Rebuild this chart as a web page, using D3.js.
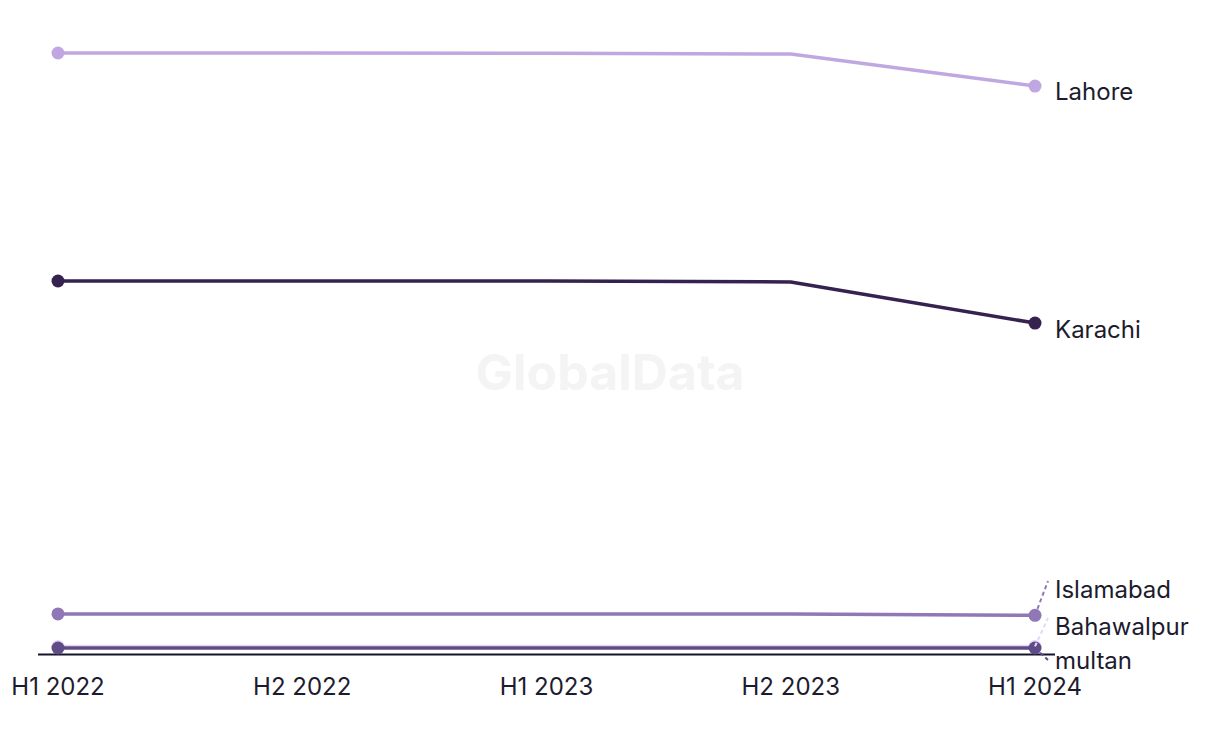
<!DOCTYPE html>
<html><head><meta charset="utf-8">
<script src="https://cdn.jsdelivr.net/npm/d3@7"></script>
<style>
html,body{margin:0;padding:0;background:#fff;}
svg{display:block;}
text{font-family:Inter, "Noto Sans", sans-serif;}
</style></head>
<body>
<svg id="chart" width="1220" height="744"></svg>
<script>
const periods = ["H1 2022","H2 2022","H1 2023","H2 2023","H1 2024"];
const seriesNames = ["Lahore","Karachi","Islamabad","Bahawalpur","multan"];
const lahore     = [3000, 3000, 2999, 2995, 2835];
const karachi    = [1862, 1862, 1862, 1857, 1652];
const islamabad  = [200, 200, 200, 200, 193];
const bahawalpur = [38, 38, 38, 38, 38];
const multan     = [30, 30, 30, 30, 30];
const colors = ["#c1a7e2","#35224f","#9077b5","#e6d6fa","#5f4b86"];
// label vertical position (in px) for crowded labels at the end
const labelY = [91, 329, 589, 626, 660];

const values = [lahore, karachi, islamabad, bahawalpur, multan];
const svg = d3.select("#chart");
const x = d3.scalePoint().domain(periods).range([58, 1035]);
const y = d3.scaleLinear().domain([0, 3000]).range([654, 53]);

// watermark
svg.append("text").attr("x", 610).attr("y", 390).attr("text-anchor","middle")
  .attr("font-size", 50).attr("font-weight", 700).attr("fill","#f4f4f4")
  .text("GlobalData");

// baseline
svg.append("line").attr("x1",38).attr("x2",1055).attr("y1",654.5).attr("y2",654.5)
  .attr("stroke","#14142a").attr("stroke-width",2);

// x tick labels
svg.append("g").selectAll("text").data(periods).join("text")
  .attr("x", d => x(d)).attr("y", 695).attr("text-anchor","middle")
  .attr("font-size", 24).attr("fill","#1d1b2e").text(d => d);

const line = d3.line().x((d,i)=>x(periods[i])).y(d=>y(d));
values.forEach((vals, k) => {
  const g = svg.append("g");
  g.append("path").attr("d", line(vals)).attr("fill","none")
    .attr("stroke", colors[k]).attr("stroke-width", 3.5).attr("stroke-linejoin","round");
  [0, periods.length-1].forEach(i => {
    g.append("circle").attr("cx", x(periods[i])).attr("cy", y(vals[i])).attr("r", 6.5)
      .attr("fill", colors[k]);
  });
});

// labels + connectors
seriesNames.forEach((name, k) => {
  const last = values[k][periods.length-1];
  const py = y(last), px = x(periods[periods.length-1]);
  const ly = labelY[k];
  if (Math.abs(ly - py) > 12) {
    svg.append("line").attr("x1", px).attr("y1", py).attr("x2", px+13).attr("y2", ly + (ly < py ? -8 : 0))
      .attr("stroke", colors[k]).attr("stroke-width", 2).attr("stroke-dasharray","4,3");
  }
  svg.append("text").attr("x", 1055).attr("y", ly).attr("dy","0.36em")
    .attr("font-size", 24).attr("fill","#1d1b2e").text(name);
});
</script>
</body></html>
